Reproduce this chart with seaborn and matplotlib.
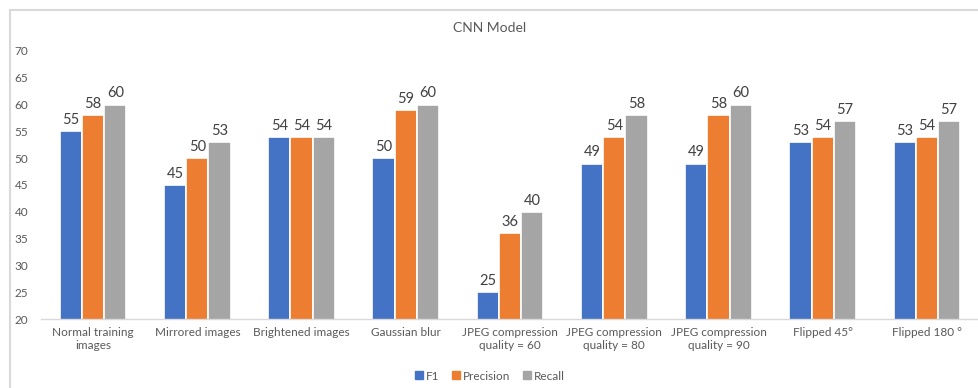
import matplotlib
matplotlib.use("Agg")
import matplotlib.pyplot as plt
from matplotlib.lines import Line2D
import seaborn as sns
import pandas as pd

categories = [
    "Normal training\nimages", "Mirrored images", "Brightened images",
    "Gaussian blur", "JPEG compression\nquality = 60",
    "JPEG compression\nquality = 80", "JPEG compression\nquality = 90",
    "Flipped 45°", "Flipped 180 °",
]
f1 = [55, 45, 54, 50, 25, 49, 49, 53, 53]
precision = [58, 50, 54, 59, 36, 54, 58, 54, 54]
recall = [60, 53, 54, 60, 40, 58, 60, 57, 57]
series = ["F1", "Precision", "Recall"]
colors = ["#4472C4", "#ED7D31", "#A5A5A5"]
yticks = [20, 25, 30, 35, 40, 45, 50, 55, 60, 65, 70]

df = pd.DataFrame({
    "category": categories * 3,
    "metric": [s for s in series for _ in categories],
    "value": f1 + precision + recall,
})

sns.set_theme(style="white")
plt.rcParams["font.family"] = ["Lato", "DejaVu Sans"]

fig = plt.figure(figsize=(9.79, 3.88), dpi=100)
ax = fig.add_axes([41 / 979, 1 - 319 / 388, 1 - 41 / 979, (319 - 51) / 388])

sns.barplot(data=df, x="category", y="value", hue="metric", order=categories,
            hue_order=series, palette=colors, width=0.64, edgecolor="white",
            linewidth=1.2, saturation=1, ax=ax, legend=False)

for cont in ax.containers:
    ax.bar_label(cont, fmt="%d", padding=3, fontsize=10.5, color="#404040")

ax.set_ylim(20, 70)
ax.set_yticks(yticks)
ax.set_xlim(-0.5, len(categories) - 0.5)
ax.set_xlabel("")
ax.set_ylabel("")
ax.tick_params(axis="y", labelsize=8.5, colors="#595959", length=0, pad=9)
ax.tick_params(axis="x", labelsize=8.5, colors="#595959", length=0, pad=6)
for side in ["top", "right", "left"]:
    ax.spines[side].set_visible(False)
ax.spines["bottom"].set_color("#D9D9D9")
ax.spines["bottom"].set_linewidth(1.0)
ax.grid(False)

fig.text(0.5, 1 - 28 / 388, "CNN Model", ha="center", va="center",
         fontsize=10, color="#595959")

handles = [Line2D([], [], marker="s", linestyle="none", markersize=6,
                  markerfacecolor=c, markeredgecolor=c) for c in colors]
fig.legend(handles, series, loc="center", bbox_to_anchor=(0.5, 1 - 376 / 388),
           ncol=3, frameon=False, fontsize=8.5, labelcolor="#595959",
           handletextpad=0.1, columnspacing=1.0, handlelength=0.9)

# chart frame
fig.add_artist(Line2D([10 / 979, 10 / 979], [0, 1 - 10 / 388],
                      transform=fig.transFigure, color="#D9D9D9", lw=1.5))
fig.add_artist(Line2D([10 / 979, 1], [1 - 10 / 388, 1 - 10 / 388],
                      transform=fig.transFigure, color="#D9D9D9", lw=1.5))

fig.savefig("out.png", dpi=100, facecolor="white")
